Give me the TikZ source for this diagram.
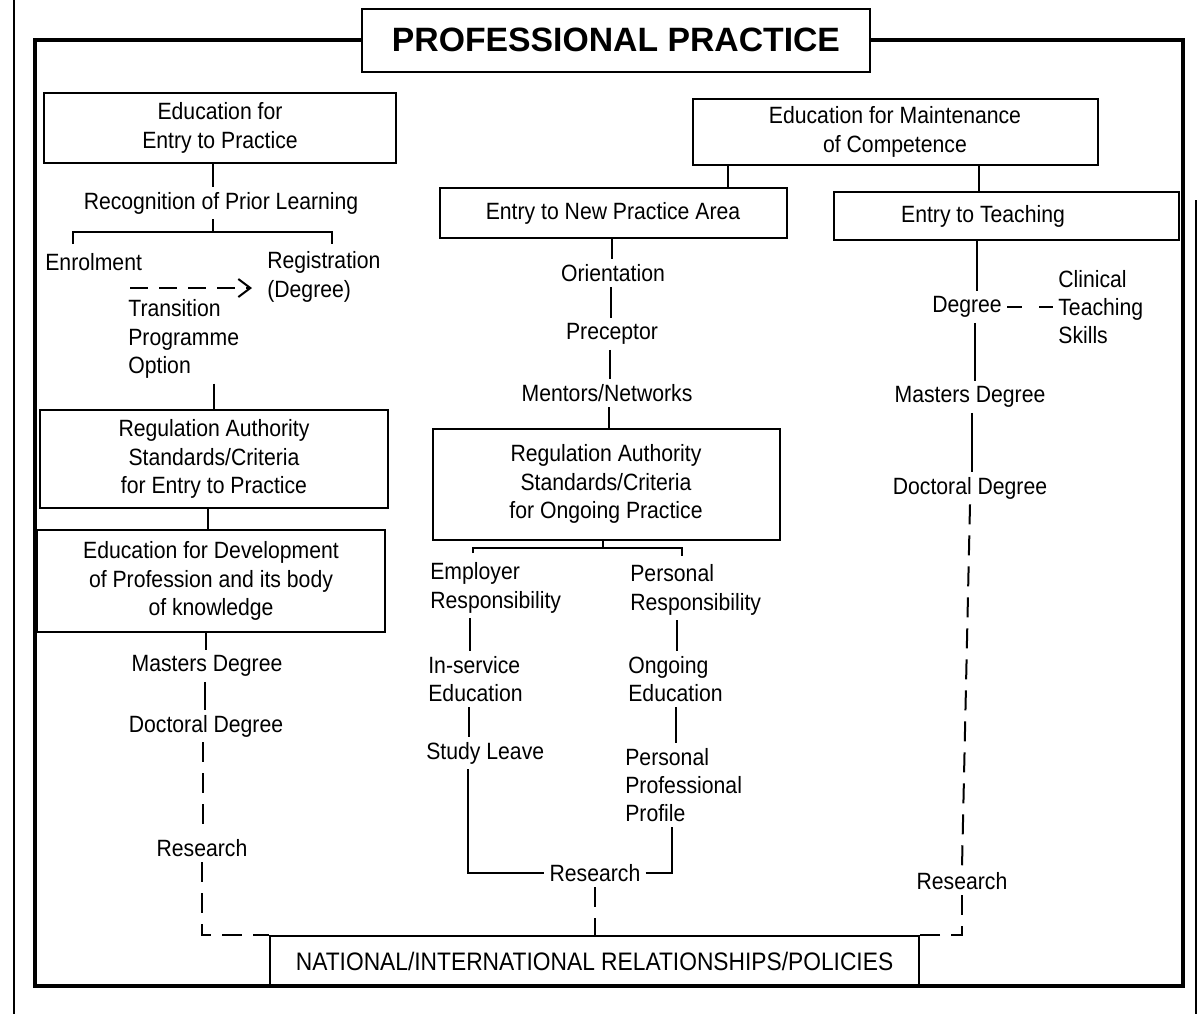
\documentclass[tikz,border=0pt]{standalone}
\usepackage{fontspec}
\setmainfont[FakeStretch=0.9]{Liberation Sans}
\newfontfamily\headfont{Liberation Sans}
\usetikzlibrary{arrows.meta,positioning}
\tikzset{
  blk/.style={draw,line width=0.4mm,align=center,inner sep=2pt},
  ttl/.style={blk,font=\headfont\fontsize{19.2}{22}\selectfont\bfseries},
  lbl/.style={align=center,inner sep=1mm},
  lbll/.style={lbl,align=left,anchor=west},
  cnx/.style={line width=0.4mm},
  cnxd/.style={cnx,dash pattern=on 4mm off 2.2mm},
  rim/.style={line width=0.8mm,line join=miter},
}

\begin{document}
\begin{tikzpicture}[x=0.2mm,y=-0.2mm,font=\fontsize{13.4}{16.1}\selectfont]
  \useasboundingbox (0,0) rectangle (1201,1014);

  % --- page edges and frame -------------------------------------------------
  \draw[line width=0.3mm] (14,0) -- (14,1014);
  \draw[line width=0.3mm] (1196,200) -- (1196,1014);
  \node[ttl,minimum width=101.6mm,minimum height=12.6mm] (title) at (616,40)
        {PROFESSIONAL PRACTICE};
  \draw[rim] (title.west) -- (35,40) -- (35,986) -- (1183,986) -- (1183,40) -- (title.east);

  % --- entry to practice ----------------------------------------------------
  \node[blk,minimum width=70.2mm,minimum height=14mm] (entry) at (220,128)
        {Education for\\Entry to Practice};
  \node[lbl] (rpl) at (221,203) {Recognition of Prior Learning};
  \node[lbll] (enrol) at (40,262) {Enrolment};
  \node[lbll] (regn) at (262,277) {Registration\\(Degree)};
  \node[lbll] (tpo) at (123,339) {Transition\\Programme\\Option};
  \node[blk,minimum width=69.6mm,minimum height=19.6mm] (regA) at (214,459)
        {Regulation Authority\\Standards/Criteria\\for Entry to Practice};
  \node[blk,minimum width=69.6mm,minimum height=20.4mm] (devA) at (211,581)
        {Education for Development\\of Profession and its body\\of knowledge};
  \node[lbl] (mastA) at (207,666) {Masters Degree};
  \node[lbl] (docA) at (206,726) {Doctoral Degree};
  \node[lbl] (resA) at (202,848) {Research};

  % --- maintenance of competence --------------------------------------------
  \node[blk,minimum width=81mm,minimum height=13.2mm] (maint) at (895,132)
        {Education for Maintenance\\of Competence};
  \node[blk,minimum width=69.4mm,minimum height=10mm] (newarea) at (613,213)
        {Entry to New Practice Area};
  \node[blk,minimum width=69mm,minimum height=9.6mm] (teach) at (1006,216)
        {Entry to Teaching\hspace*{9.2mm}};

  \node[lbl] (orient) at (613,273) {Orientation};
  \node[lbl] (precep) at (612,334) {Preceptor};
  \node[lbl] (mentor) at (607,393) {Mentors/Networks};
  \node[blk,minimum width=69.4mm,minimum height=22.2mm] (regB) at (606,484)
        {Regulation Authority\\Standards/Criteria\\for Ongoing Practice};
  \node[lbll] (empl) at (425,588) {Employer\\Responsibility};
  \node[lbll] (insv) at (423,679) {In-service\\Education};
  \node[lbll] (study) at (421,753) {Study Leave};
  \node[lbll] (pers) at (625,590) {Personal\\Responsibility};
  \node[lbll] (ongo) at (623,679) {Ongoing\\Education};
  \node[lbll] (ppp) at (620,785) {Personal\\Professional\\Profile};
  \node[lbl] (resB) at (595,873) {Research};

  \node[lbl] (deg) at (967,307) {Degree};
  \node[lbll] (cts) at (1053,307) {Clinical\\Teaching\\Skills};
  \node[lbl] (mastC) at (970,397) {Masters Degree};
  \node[lbl] (docC) at (970,488) {Doctoral Degree};
  \node[lbl] (resC) at (962,881) {Research};

  \node[blk,minimum width=129.8mm,minimum height=10mm,font=\fontsize{14.4}{17}\selectfont]
        (nat) at (594.5,961) {NATIONAL/INTERNATIONAL RELATIONSHIPS/POLICIES};

  % --- left column links ----------------------------------------------------
  \coordinate (brA) at (213,232);
  \coordinate (brAl) at (73,244);
  \coordinate (brAr) at (332,244);
  \draw[cnx] (entry.south -| brA) -- (rpl.north -| brA);
  \draw[cnx] (rpl.south -| brA) -- (brA);
  \draw[cnx] (brAl) |- (brA) -| (brAr);
  \coordinate (tpa) at (130,288);
  \coordinate (tpb) at (252,288);
  \draw[cnx,dash pattern=on 3.6mm off 2.2mm,-{Straight Barb[length=2.4mm,width=3.6mm]}]
        (tpa) -- (tpb);
  \draw[cnx] (tpo.south -| regA.north) -- (regA.north);
  \draw[cnx] (regA.south -| 208,0) -- (devA.north -| 208,0);
  \draw[cnx] (devA.south -| 206,0) -- (mastA.north -| 206,0);
  \draw[cnx] (mastA.south -| 205,0) -- (docA.north -| 205,0);
  \draw[cnxd] (docA.south -| 203,0) -- (resA.north -| 203,0);
  \draw[cnxd] (resA.south) |- (nat.north west);

  % --- middle column links --------------------------------------------------
  \draw[cnx] (maint.south -| 728,0) -- (newarea.north -| 728,0);
  \draw[cnx] (maint.south -| 979,0) -- (teach.north -| 979,0);
  \draw[cnx] (newarea.south -| 612,0) -- (orient.north -| 612,0);
  \draw[cnx] (orient.south -| 611,0) -- (precep.north -| 611,0);
  \draw[cnx] (precep.south -| 610,0) -- (mentor.north -| 610,0);
  \draw[cnx] (mentor.south -| 609,0) -- (regB.north -| 609,0);
  \coordinate (brB) at (603,548);
  \coordinate (brBl) at (473,553);
  \coordinate (brBr) at (682,556);
  \draw[cnx] (regB.south -| brB) -- (brB);
  \draw[cnx] (brBl) |- (brB) -| (brBr);
  \draw[cnx] (empl.south -| 470,0) -- (insv.north -| 470,0);
  \draw[cnx] (insv.south -| 469,0) -- (study.north -| 469,0);
  \draw[cnx] (study.south -| 468,0) |- (resB.west);
  \draw[cnx] (resB.east) -| (ppp.south -| 672,0);
  \draw[cnx] (pers.south -| 677,0) -- (ongo.north -| 677,0);
  \draw[cnx] (ongo.south -| 676,0) -- (ppp.north -| 676,0);
  \draw[cnxd] (resB.south) -- (resB.south |- nat.north);

  % --- right column links ---------------------------------------------------
  \draw[cnx] (teach.south -| 977,0) -- (deg.north -| 977,0);
  \draw[cnx,dash pattern=on 3mm off 3.4mm] (deg.east) -- (cts.west);
  \draw[cnx] (deg.south -| 975,0) -- (mastC.north -| 975,0);
  \draw[cnx] (mastC.south -| 972,0) -- (docC.north -| 972,0);
  \draw[cnxd] (docC.south) -- (resC.north);
  \draw[cnxd] (resC.south) |- (nat.north east);

\end{tikzpicture}
\end{document}
